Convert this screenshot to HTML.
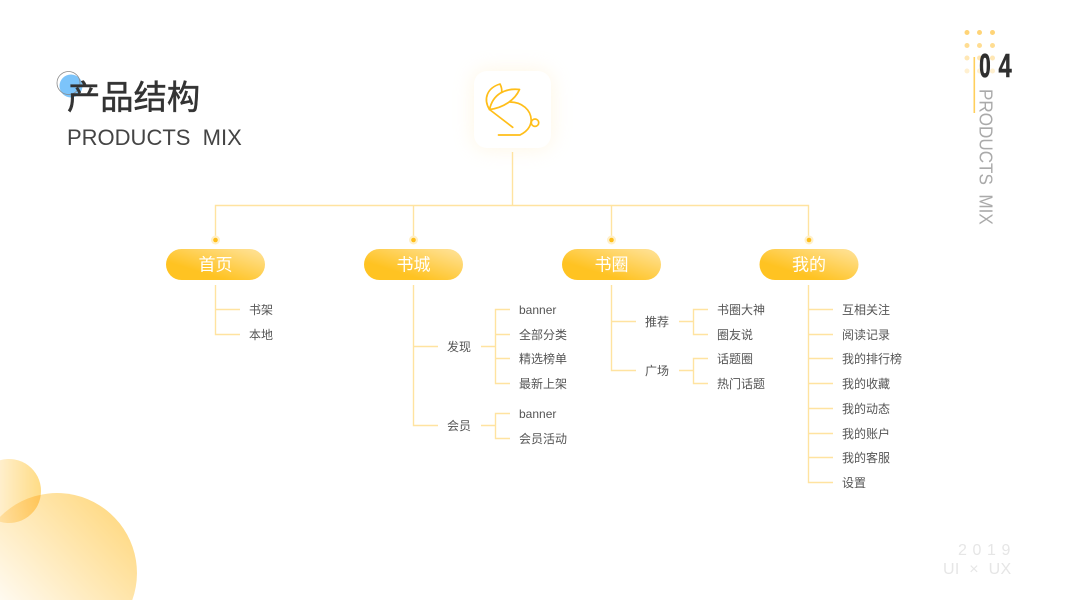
<!DOCTYPE html>
<html lang="zh">
<head>
<meta charset="utf-8">
<style>
html,body{margin:0;padding:0;background:#fff;width:1067px;height:600px;overflow:hidden}
svg{display:block;font-family:"Liberation Sans","Noto Sans CJK SC",sans-serif}
.t{font-size:12px;fill:#555}
.p{font-size:17px;fill:#fff;text-anchor:middle}
.l{stroke:#ffe3a0;stroke-width:1.4;fill:none}
</style>
</head>
<body>
<svg width="1067" height="600" viewBox="0 0 1067 600" xmlns="http://www.w3.org/2000/svg">
<defs>
<linearGradient id="pill" x1="0.1" y1="0.9" x2="0.9" y2="0.1">
<stop offset="0.25" stop-color="#ffc322"/><stop offset="1" stop-color="#ffdf8c"/>
</linearGradient>
<linearGradient id="big" x1="0" y1="1" x2="1" y2="0.25">
<stop offset="0" stop-color="#fffaf0"/><stop offset="1" stop-color="#ffd87f"/>
</linearGradient>
<linearGradient id="small" x1="0" y1="0.5" x2="1" y2="0.5">
<stop offset="0" stop-color="#ffedc6"/><stop offset="1" stop-color="#ffd878"/>
</linearGradient>
<filter id="sh" x="-100%" y="-100%" width="300%" height="300%">
<feGaussianBlur stdDeviation="10"/>
</filter>
</defs>

<!-- bottom-left circles -->
<path d="M0 516.9A80 80 0 0 1 132.3 600L0 600Z" fill="url(#big)"/>
<path d="M0 460.3A32 32 0 1 1 0 521.7Z" fill="url(#small)" fill-opacity="0.9" style="mix-blend-mode:multiply"/>

<!-- title -->
<circle cx="71" cy="86" r="11.5" fill="#7cc4fa"/>
<circle cx="68.5" cy="83" r="11.5" fill="none" stroke="#8a8a8a" stroke-width="0.8"/>
<text x="67" y="109" font-size="33.3" fill="#333" stroke="#333" stroke-width="0.5">产品结构</text>
<text x="67" y="145" font-size="22" fill="#444" xml:space="preserve">PRODUCTS  MIX</text>

<!-- top-right -->
<g fill="#ffd477">
<circle cx="967" cy="32.5" r="2.5"/><circle cx="979.5" cy="32.5" r="2.5"/><circle cx="992.5" cy="32.5" r="2.5"/>
<circle cx="967" cy="45.5" r="2.5" opacity=".8"/><circle cx="979.5" cy="45.5" r="2.5" opacity=".8"/><circle cx="992.5" cy="45.5" r="2.5" opacity=".8"/>
<circle cx="967" cy="58" r="2.5" opacity=".55"/><circle cx="979.5" cy="58" r="2.5" opacity=".55"/><circle cx="992.5" cy="58" r="2.5" opacity=".55"/>
<circle cx="967" cy="71" r="2.5" opacity=".35"/><circle cx="979.5" cy="71" r="2.5" opacity=".35"/><circle cx="992.5" cy="71" r="2.5" opacity=".35"/>
</g>
<rect x="973.5" y="57" width="1.6" height="56" fill="#ffcf5c"/>
<text transform="translate(979.3 77) scale(0.62 1)" font-size="33" font-weight="700" fill="#2f2f2f" stroke="#2f2f2f" stroke-width="0.8">0</text>
<text transform="translate(998.5 77) scale(0.72 1)" font-size="33" font-weight="700" fill="#2f2f2f" stroke="#2f2f2f" stroke-width="0.4">4</text>
<text transform="translate(979.5 89) rotate(90) scale(0.925 1)" font-size="18.5" fill="#aaa" xml:space="preserve">PRODUCTS  MIX</text>

<!-- app icon -->
<rect x="474" y="71" width="77" height="77" rx="13" fill="#ffe9b8" opacity=".4" filter="url(#sh)"/>
<rect x="474" y="71" width="77" height="77" rx="13" fill="#fff"/>
<g fill="none" stroke="#ffbe19" stroke-width="1.7" stroke-linecap="round" stroke-linejoin="round">
<path d="M489.5 109.5C483 99 487 88 500 84C501.5 87 502 89.5 501.7 92"/>
<path d="M489.5 109.5C493 94 505 88 519.5 89.5C515 100 503 108 489.5 109.5Z"/>
<path d="M489.5 109.5L512.7 127.3"/>
<path d="M510 102C522 102 531 110 531.2 120C531 127 526 132 520 135L498.5 135"/>
<circle cx="535" cy="122.7" r="3.7"/>
</g>

<!-- main connectors -->
<g class="l">
<path d="M512.5 152V205M215.5 240V205.5H808.5V240M413.5 205.5V240M611.5 205.5V240"/>
<!-- 首页 -->
<path d="M215.5 285V334.5H240M215.5 309.5H240"/>
<!-- 书城 -->
<path d="M413.5 285V425.5H438M413.5 346.5H438"/>
<path d="M481 346.5H495.5M510 309.5H495.5V383.5H510M495.5 334.5H510M495.5 358.5H510"/>
<path d="M481 425.5H495.5M510 413.5H495.5V438.5H510"/>
<!-- 书圈 -->
<path d="M611.5 285V370.5H636M611.5 321.5H636"/>
<path d="M679 321.5H693.5M708 309.5H693.5V334.5H708"/>
<path d="M679 370.5H693.5M708 358.5H693.5V383.5H708"/>
<!-- 我的 -->
<path d="M808.5 285V482.5H833M808.5 309.5H833M808.5 334.5H833M808.5 358.5H833M808.5 383.5H833M808.5 408.5H833M808.5 433.5H833M808.5 457.5H833"/>
</g>

<!-- dots -->
<g>
<circle cx="215.5" cy="240" r="4.5" fill="#fff0c9"/><circle cx="215.5" cy="240" r="2.3" fill="#ffbe19"/>
<circle cx="413.5" cy="240" r="4.5" fill="#fff0c9"/><circle cx="413.5" cy="240" r="2.3" fill="#ffbe19"/>
<circle cx="611.5" cy="240" r="4.5" fill="#fff0c9"/><circle cx="611.5" cy="240" r="2.3" fill="#ffbe19"/>
<circle cx="809" cy="240" r="4.5" fill="#fff0c9"/><circle cx="809" cy="240" r="2.3" fill="#ffbe19"/>
</g>

<!-- pills -->
<rect x="166" y="249" width="99" height="31" rx="15.5" fill="url(#pill)"/>
<rect x="364" y="249" width="99" height="31" rx="15.5" fill="url(#pill)"/>
<rect x="562" y="249" width="99" height="31" rx="15.5" fill="url(#pill)"/>
<rect x="759.5" y="249" width="99" height="31" rx="15.5" fill="url(#pill)"/>
<text class="p" x="215.5" y="270.5">首页</text>
<text class="p" x="413.5" y="270.5">书城</text>
<text class="p" x="611.5" y="270.5">书圈</text>
<text class="p" x="809" y="270.5">我的</text>

<!-- labels -->
<g class="t">
<text x="249" y="314">书架</text>
<text x="249" y="339">本地</text>

<text x="447" y="351">发现</text>
<text x="447" y="430">会员</text>
<text x="519" y="314">banner</text>
<text x="519" y="339">全部分类</text>
<text x="519" y="363">精选榜单</text>
<text x="519" y="388">最新上架</text>
<text x="519" y="418">banner</text>
<text x="519" y="443">会员活动</text>

<text x="645" y="326">推荐</text>
<text x="645" y="375">广场</text>
<text x="717" y="314">书圈大神</text>
<text x="717" y="339">圈友说</text>
<text x="717" y="363">话题圈</text>
<text x="717" y="388">热门话题</text>

<text x="842" y="314">互相关注</text>
<text x="842" y="339">阅读记录</text>
<text x="842" y="363">我的排行榜</text>
<text x="842" y="388">我的收藏</text>
<text x="842" y="413">我的动态</text>
<text x="842" y="438">我的账户</text>
<text x="842" y="462">我的客服</text>
<text x="842" y="487">设置</text>
</g>

<!-- bottom right -->
<text x="958" y="555" font-size="16" letter-spacing="5.6" fill="#e6e6e6">2019</text>
<text x="943" y="574" font-size="16" letter-spacing="0.35" fill="#e6e6e6" xml:space="preserve">UI  ×  UX</text>
</svg>
</body>
</html>
